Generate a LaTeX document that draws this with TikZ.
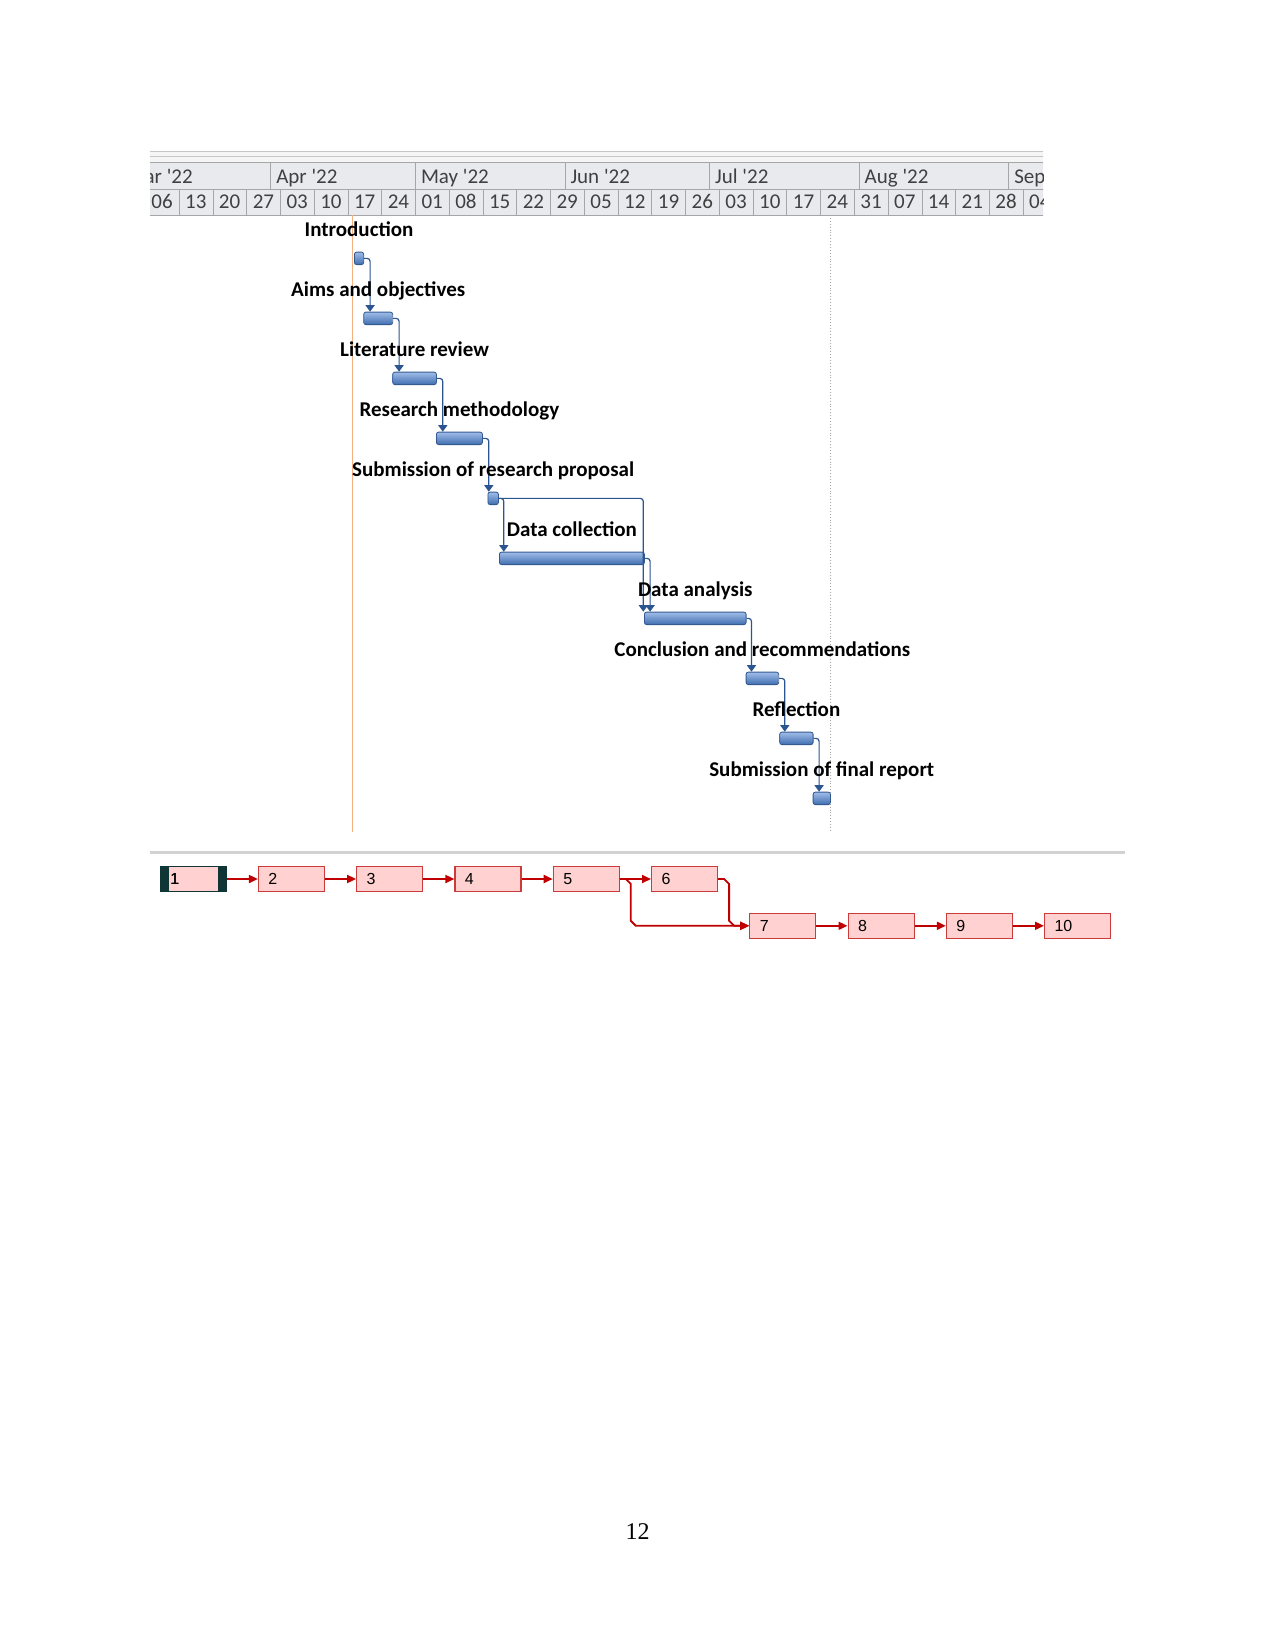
\documentclass[tikz,border=0pt]{standalone}
\usepackage{fontspec}
\setmainfont{Carlito}
\newfontfamily\netfont{Liberation Sans}
\newfontfamily\pgfont{Liberation Serif}
\usetikzlibrary{arrows.meta,calc}
\definecolor{hdrfill}{HTML}{E8EAEE}
\definecolor{hdrline}{HTML}{A6A6A6}
\definecolor{hdrtext}{HTML}{404040}
\definecolor{bartop}{HTML}{A0BDE8}
\definecolor{barbot}{HTML}{3F6DB0}
\definecolor{barline}{HTML}{34598F}
\definecolor{connblue}{HTML}{2A5590}
\definecolor{todayline}{HTML}{F4B183}
\definecolor{netfill}{HTML}{FFD1D1}
\definecolor{netline}{HTML}{CC3A3A}
\definecolor{netarrow}{HTML}{C00000}
\definecolor{selbar}{HTML}{0F3535}
\begin{document}
\begin{tikzpicture}[x=1pt,y=-1pt,
  hdrtxt/.style={font=\fontsize{21}{21}\selectfont, text=hdrtext, inner sep=0pt},
  gbar/.style={draw=barline, line width=0.8pt, rounded corners=2.2pt, top color=bartop, bottom color=barbot, minimum height=12.5pt, inner sep=0pt, anchor=north west},
  glab/.style={font=\bfseries\fontsize{21}{21}\selectfont, inner sep=0pt, anchor=base},
  conn/.style={draw=connblue, line width=1.2pt, rounded corners=3pt, -{Triangle[width=9pt,length=6.5pt]}},
  netbox/.style={draw=netline, fill=netfill, line width=1.1pt, minimum height=25pt, text width=46pt, inner xsep=10pt, inner ysep=0pt, align=left, font=\netfont\fontsize{16}{16}\selectfont, anchor=west},
  netarr/.style={draw=netarrow, line width=1.8pt, -{Triangle[width=8pt,length=9pt]}}
]
\useasboundingbox (0,0) rectangle (1275,1650);

% ---------- timescale header ----------
\begin{scope}
\clip (150,140) rectangle (1043,216);
\fill[gray!8] (140,151.5) rectangle (1060,162.5);
\draw[gray!45] (140,151.5) -- (1060,151.5);
\draw[gray!45] (140,156.5) -- (1060,156.5);
\filldraw[fill=hdrfill, draw=hdrline] (140,162.5) rectangle (1060,189.3);
\filldraw[fill=hdrfill, draw=hdrline] (140,189.3) rectangle (1060,215);
\foreach \xx/\lab [count=\i] in {121/Mar,270.6/Apr,415.3/May,564.8/Jun,709.5/Jul,859/Aug,1008.6/Sep}{
  \draw[hdrline] (\xx,162.5) -- (\xx,189.3);
  \node[hdrtxt, anchor=base west] (m\i) at (\xx+5.5,183.3) {\lab\ \textquotesingle22};
}
\foreach \lab [count=\k from 0] in {06,13,20,27,03,10,17,24,01,08,15,22,29,05,12,19,26,03,10,17,24,31,07,14,21,28,04}{
  \pgfmathsetmacro\xl{145.24+33.76*\k}
  \draw[hdrline] (\xl,189.3) -- (\xl,215);
  \node[hdrtxt, anchor=base] (d\k) at (\xl+16.88,208.5) {\lab};
}
\end{scope}

% ---------- status / finish lines ----------
\draw[todayline, line width=1.2pt] (352.7,215) -- (352.7,832);
\draw[gray!70, line width=0.9pt, dotted] (830.7,215) -- (830.7,832);

% ---------- gantt bars ----------
\node[gbar, minimum width=9.3pt]   (g1)  at (354,251.7) {};
\node[gbar, minimum width=29pt]    (g2)  at (363.3,311.7) {};
\node[gbar, minimum width=43.7pt]  (g3)  at (392.3,371.7) {};
\node[gbar, minimum width=46pt]    (g4)  at (436,431.7) {};
\node[gbar, minimum width=10.5pt]  (g5)  at (487.5,491.7) {};
\node[gbar, minimum width=145pt]   (g6)  at (499,551.7) {};
\node[gbar, minimum width=101.7pt] (g7)  at (644,611.7) {};
\node[gbar, minimum width=32.6pt]  (g8)  at (745.7,671.7) {};
\node[gbar, minimum width=33.4pt]  (g9)  at (779.3,731.7) {};
\node[gbar, minimum width=17.3pt]  (g10) at (812.7,791.7) {};

% ---------- connectors ----------
\draw[conn] (g1.east) -- ++(6,0) coordinate (c1) -- (c1 |- g2.north);
\draw[conn] (g2.east) -- ++(6,0) coordinate (c2) -- (c2 |- g3.north);
\draw[conn] (g3.east) -- ++(6,0) coordinate (c3) -- (c3 |- g4.north);
\draw[conn] (g4.east) -- ++(6,0) coordinate (c4) -- (c4 |- g5.north);
\draw[conn] (g5.east) -- ++(5,0) coordinate (c5) -- (c5 |- g6.north);
\draw[conn] (g5.east) -- ($(g5.east -| g7.west)+(-0.7,0)$) coordinate (c5b) -- (c5b |- g7.north);
\draw[conn] (g6.east) -- ++(5.3,0) coordinate (c6) -- (c6 |- g7.north);
\draw[conn] (g7.east) -- ++(5,0) coordinate (c7) -- (c7 |- g8.north);
\draw[conn] (g8.east) -- ++(5.7,0) coordinate (c8) -- (c8 |- g9.north);
\draw[conn] (g9.east) -- ++(5.6,0) coordinate (c9) -- (c9 |- g10.north);

% ---------- task labels ----------
\node[glab] (l1)  at ($(g1.north)+(0,-15)$)  {Introduction};
\node[glab] (l2)  at ($(g2.north)+(0,-15)$)  {Aims and objectives};
\node[glab] (l3)  at ($(g3.north)+(0,-15)$)  {Literature review};
\node[glab] (l4)  at ($(g4.north)+(0,-15)$)  {Research methodology};
\node[glab] (l5)  at ($(g5.north)+(0,-15)$)  {Submission of research proposal};
\node[glab] (l6)  at ($(g6.north)+(0,-15)$)  {Data collection};
\node[glab] (l7)  at ($(g7.north)+(0,-15)$)  {Data analysis};
\node[glab] (l8)  at ($(g8.north)+(0,-15)$)  {Conclusion and recommendations};
\node[glab] (l9)  at ($(g9.north)+(0,-15)$)  {Reflection};
\node[glab] (l10) at ($(g10.north)+(0,-15)$) {Submission of final report};

% ---------- separator ----------
\draw[gray!35, line width=2.5pt] (150,852.5) -- (1125,852.5);

% ---------- network diagram ----------
\node[netbox, draw=selbar, line width=1.4pt] (n1) at (159.6,879) {1};
\fill[selbar] (n1.north west) rectangle ($(n1.south west)+(9.5,0)$);
\fill[selbar] ($(n1.north east)+(-9.5,0)$) rectangle (n1.south east);
\node[netbox, draw=selbar, line width=1.4pt, fill=none] (n1f) at (159.6,879) {1};
\node[netbox] (n2)  at (257.9,879) {2};
\node[netbox] (n3)  at (356.1,879) {3};
\node[netbox] (n4)  at (454.4,879) {4};
\node[netbox] (n5)  at (552.7,879) {5};
\node[netbox] (n6)  at (651.0,879) {6};
\node[netbox] (n7)  at (749.2,925.8) {7};
\node[netbox] (n8)  at (847.5,925.8) {8};
\node[netbox] (n9)  at (945.8,925.8) {9};
\node[netbox] (n10) at (1044.0,925.8) {10};

\draw[netarr] (n1.east) -- (n2.west);
\draw[netarr] (n2.east) -- (n3.west);
\draw[netarr] (n3.east) -- (n4.west);
\draw[netarr] (n4.east) -- (n5.west);
\draw[netarr] (n5.east) -- (n6.west);
\draw[netarr] (n5.east) -- ++(6,0) -- ++(5,5) coordinate (a5) -- ($(a5 |- n7.west)+(0,-5)$) -- ++(5,5) -- (n7.west);
\draw[netarr] (n6.east) -- ++(6,0) -- ++(5,5) coordinate (a6) -- ($(a6 |- n7.west)+(0,-5)$) -- ++(5,5) -- (n7.west);
\draw[netarr] (n7.east) -- (n8.west);
\draw[netarr] (n8.east) -- (n9.west);
\draw[netarr] (n9.east) -- (n10.west);

% ---------- page number ----------
\node[font=\pgfont\fontsize{24}{24}\selectfont, inner sep=0pt, anchor=base] (pg) at (637.7,1539.3) {12};
\end{tikzpicture}
\end{document}
